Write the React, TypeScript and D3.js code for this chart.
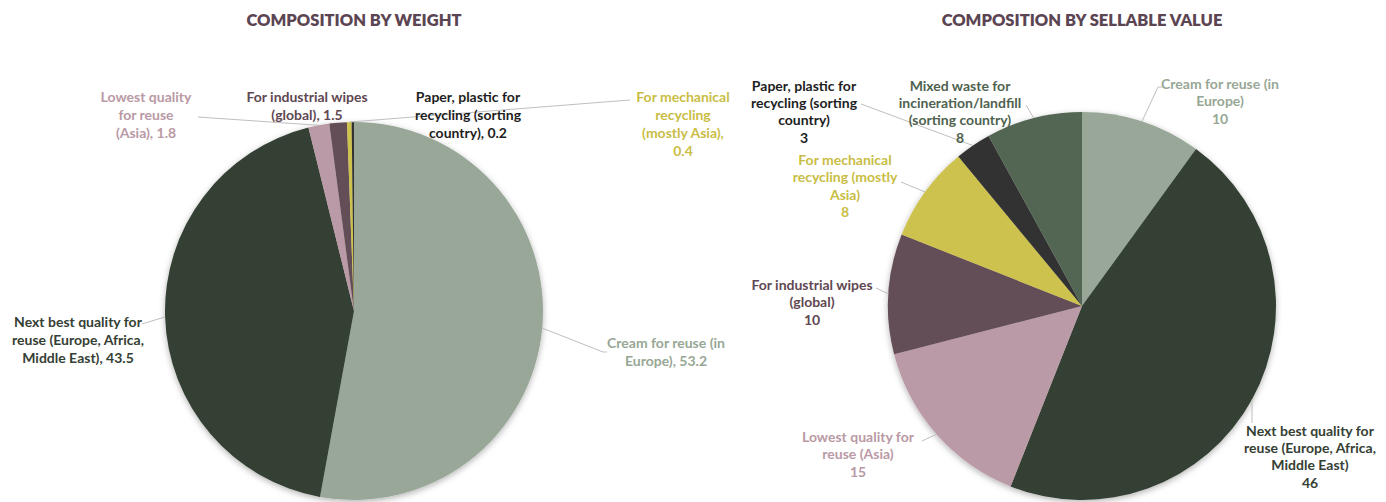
import React from "react";
import * as d3 from "d3";

// ---------- Data ----------
const weightCategories = [
  "Cream for reuse (in Europe)",
  "Next best quality for reuse (Europe, Africa, Middle East)",
  "Lowest quality for reuse (Asia)",
  "For industrial wipes (global)",
  "For mechanical recycling (mostly Asia)",
  "Paper, plastic for recycling (sorting country)",
];
const weightValues = [53.2, 43.5, 1.8, 1.5, 0.4, 0.2];
const weightLabelLines = [
  ["Cream for reuse (in", "Europe)"],
  ["Next best quality for", "reuse (Europe, Africa,", "Middle East)"],
  ["Lowest quality", "for reuse", "(Asia)"],
  ["For industrial wipes", "(global)"],
  ["For mechanical", "recycling", "(mostly Asia)"],
  ["Paper, plastic for", "recycling (sorting", "country)"],
];
const weightValueOnNewLine = [false, false, false, false, true, false];

const valueCategories = [
  "Cream for reuse (in Europe)",
  "Next best quality for reuse (Europe, Africa, Middle East)",
  "Lowest quality for reuse (Asia)",
  "For industrial wipes (global)",
  "For mechanical recycling (mostly Asia)",
  "Paper, plastic for recycling (sorting country)",
  "Mixed waste for incineration/landfill (sorting country)",
];
const valueValues = [10, 46, 15, 10, 8, 3, 8];
const valueLabelLines = [
  ["Cream for reuse (in", "Europe)"],
  ["Next best quality for", "reuse (Europe, Africa,", "Middle East)"],
  ["Lowest quality for", "reuse (Asia)"],
  ["For industrial wipes", "(global)"],
  ["For mechanical", "recycling (mostly", "Asia)"],
  ["Paper, plastic for", "recycling (sorting", "country)"],
  ["Mixed waste for", "incineration/landfill", "(sorting country)"],
];

const titles = ["COMPOSITION BY WEIGHT", "COMPOSITION BY SELLABLE VALUE"];

// ---------- Styles / layout ----------
const colorByCategory: Record<string, string> = {
  "Cream for reuse (in Europe)": "#98a797",
  "Next best quality for reuse (Europe, Africa, Middle East)": "#354034",
  "Lowest quality for reuse (Asia)": "#ba9aa6",
  "For industrial wipes (global)": "#634e56",
  "For mechanical recycling (mostly Asia)": "#cdc24d",
  "Paper, plastic for recycling (sorting country)": "#333333",
  "Mixed waste for incineration/landfill (sorting country)": "#536653",
};
const labelColorByCategory: Record<string, string> = {
  "Cream for reuse (in Europe)": "#97a796",
  "Next best quality for reuse (Europe, Africa, Middle East)": "#354034",
  "Lowest quality for reuse (Asia)": "#b999a5",
  "For industrial wipes (global)": "#5f4852",
  "For mechanical recycling (mostly Asia)": "#c9bd45",
  "Paper, plastic for recycling (sorting country)": "#1e1e1e",
  "Mixed waste for incineration/landfill (sorting country)": "#4f624f",
};

type LabelLayout = { x: number; y: number; lh: number; leader?: [number, number][] };

const weightLayout: LabelLayout[] = [
  { x: 666, y: 343, lh: 18, leader: [[603, 352], [607, 352]] },
  { x: 78, y: 322, lh: 18, leader: [[142, 324]] },
  { x: 146, y: 97, lh: 18, leader: [[198, 117]] },
  { x: 307, y: 97, lh: 18 },
  { x: 683, y: 97, lh: 18, leader: [[630, 100]] },
  { x: 468, y: 97, lh: 18 },
];
const valueLayout: LabelLayout[] = [
  { x: 1220, y: 84, lh: 17.5, leader: [[1158, 87], [1163, 87]] },
  { x: 1310, y: 431, lh: 17.2, leader: [[1252, 423]] },
  { x: 858, y: 437, lh: 17.5, leader: [[922, 441]] },
  { x: 812, y: 285, lh: 17.5, leader: [[876, 288]] },
  { x: 845, y: 160, lh: 17.5, leader: [[901, 182]] },
  { x: 804, y: 86, lh: 17.2, leader: [[861, 104]] },
  { x: 960, y: 86, lh: 17.2, leader: [[1026, 105]] },
];

const FONT = "Lato, 'Open Sans', sans-serif";

type PieProps = {
  cx: number;
  cy: number;
  r: number;
  categories: string[];
  values: number[];
  lines: string[][];
  layout: LabelLayout[];
  inlineValue: boolean;
  valueNewLine?: boolean[];
  title: string;
};

function PieChart(p: PieProps) {
  const pie = d3
    .pie<number>()
    .sort(null)
    .value((d) => d)
    .startAngle(0)
    .endAngle(2 * Math.PI);
  const arcs = pie(p.values);
  const arc = d3.arc<d3.PieArcDatum<number>>().innerRadius(0).outerRadius(p.r);

  const edge = (a: d3.PieArcDatum<number>): [number, number] => {
    const m = (a.startAngle + a.endAngle) / 2;
    return [p.cx + p.r * Math.sin(m), p.cy - p.r * Math.cos(m)];
  };

  return (
    <g>
      <text
        x={p.cx}
        y={26}
        textAnchor="middle"
        fontFamily={FONT}
        fontWeight={800}
        fontSize={16.5}
        fill="#5c4553"
      >
        {p.title}
      </text>
      <g filter="url(#pieShadow)">
        <g transform={`translate(${p.cx},${p.cy})`}>
          {arcs.map((a, i) => (
            <path key={i} d={arc(a) || ""} fill={colorByCategory[p.categories[i]]} />
          ))}
        </g>
      </g>
      {arcs.map((a, i) => {
        const L = p.layout[i];
        if (!L.leader) return null;
        const pts = [edge(a), ...L.leader];
        return (
          <path
            key={"l" + i}
            d={d3.line()(pts) || ""}
            fill="none"
            stroke="#bfbfbf"
            strokeWidth={1}
          />
        );
      })}
      {arcs.map((a, i) => {
        const L = p.layout[i];
        const cat = p.categories[i];
        let ls = p.lines[i].slice();
        const v = String(p.values[i]);
        if (p.inlineValue) {
          if (p.valueNewLine && p.valueNewLine[i]) {
            ls[ls.length - 1] = ls[ls.length - 1] + ",";
            ls.push(v);
          } else {
            ls[ls.length - 1] = ls[ls.length - 1] + ", " + v;
          }
        } else {
          ls.push(v);
        }
        return (
          <text
            key={"t" + i}
            textAnchor="middle"
            fontFamily={FONT}
            fontWeight={700}
            fontSize={14}
            fill={labelColorByCategory[cat]}
          >
            {ls.map((s, j) => (
              <tspan key={j} x={L.x} y={L.y + j * L.lh} dy="0.35em">
                {s}
              </tspan>
            ))}
          </text>
        );
      })}
    </g>
  );
}

export default function App() {
  return (
    <svg
      width={1386}
      height={502}
      style={{ position: "absolute", left: 0, top: 0, background: "#ffffff" }}
    >
      <defs>
        <filter id="pieShadow" x="-20%" y="-20%" width="140%" height="140%">
          <feDropShadow dx="0" dy="2" stdDeviation="3" floodColor="#000" floodOpacity="0.3" />
        </filter>
      </defs>
      <rect width={1386} height={502} fill="#ffffff" />
      <PieChart
        cx={354}
        cy={311}
        r={189}
        categories={weightCategories}
        values={weightValues}
        lines={weightLabelLines}
        layout={weightLayout}
        inlineValue={true}
        valueNewLine={weightValueOnNewLine}
        title={titles[0]}
      />
      <PieChart
        cx={1082}
        cy={306}
        r={194}
        categories={valueCategories}
        values={valueValues}
        lines={valueLabelLines}
        layout={valueLayout}
        inlineValue={false}
        title={titles[1]}
      />
    </svg>
  );
}
